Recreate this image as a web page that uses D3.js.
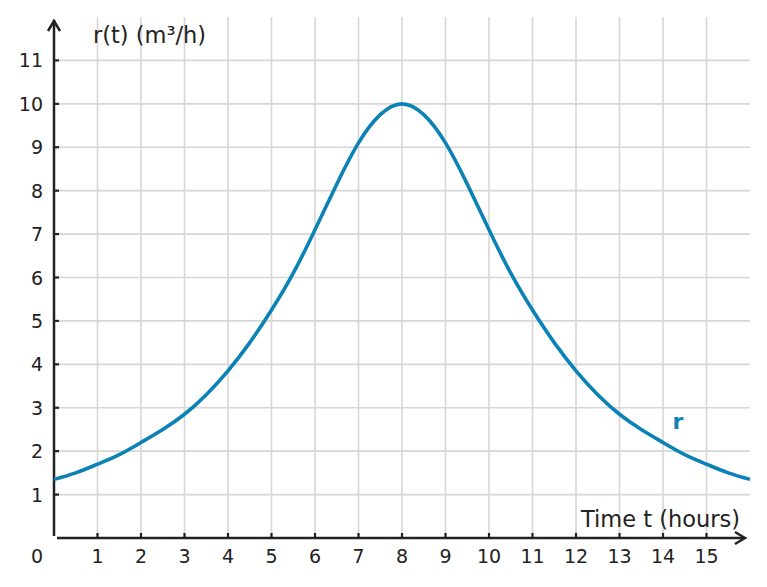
<!DOCTYPE html>
<html>
<head>
<meta charset="utf-8">
<script src="https://cdn.jsdelivr.net/npm/d3@7"></script>
<style>
  html, body { margin: 0; padding: 0; background: #fff; }
  text { font-family: "DejaVu Sans", sans-serif; fill: #222; }
</style>
</head>
<body>
<div id="chart"></div>
<script>
// values, every half hour
const hours = [0, 0.5, 1, 1.5, 2, 2.5, 3, 3.5, 4, 4.5, 5, 5.5, 6, 6.5, 7, 7.5, 8,
               8.5, 9, 9.5, 10, 10.5, 11, 11.5, 12, 12.5, 13, 13.5, 14, 14.5, 15, 15.5, 16];
const rate = [1.35, 1.5, 1.7, 1.92, 2.2, 2.5, 2.85, 3.3, 3.85, 4.5, 5.25, 6.1, 7.1, 8.15, 9.1, 9.75, 10,
              9.75, 9.1, 8.15, 7.1, 6.1, 5.25, 4.5, 3.85, 3.3, 2.85, 2.5, 2.2, 1.92, 1.7, 1.5, 1.35];
const xTicks = [1, 2, 3, 4, 5, 6, 7, 8, 9, 10, 11, 12, 13, 14, 15];
const yTicks = [1, 2, 3, 4, 5, 6, 7, 8, 9, 10, 11];

const width = 767, height = 587;
const svg = d3.select("#chart").append("svg")
    .attr("width", width)
    .attr("height", height);

const x = d3.scaleLinear().domain([0, 16]).range([54, 750]);
const y = d3.scaleLinear().domain([0, 12]).range([538, 17]);

// grid
const grid = svg.append("g");
grid.selectAll(".vgrid")
    .data(xTicks)
    .enter()
    .append("line")
    .attr("x1", d => x(d)).attr("x2", d => x(d))
    .attr("y1", y(12)).attr("y2", y(0))
    .style("stroke", "#d6d6d6")
    .style("stroke-width", 1.6);
grid.selectAll(".hgrid")
    .data(yTicks)
    .enter()
    .append("line")
    .attr("x1", x(0)).attr("x2", x(16))
    .attr("y1", d => y(d)).attr("y2", d => y(d))
    .style("stroke", "#d6d6d6")
    .style("stroke-width", 1.6);

// axes with arrows
const axisColor = "#222";
svg.append("path")
    .attr("d", `M${x(0)},${y(0) - 2} L${x(0)},20`)
    .style("stroke", axisColor).style("stroke-width", 2.5).style("fill", "none");
svg.append("path")
    .attr("d", `M${x(0) - 6},31 L${x(0)},21 L${x(0) + 6},31`)
    .style("stroke", axisColor).style("stroke-width", 2.5).style("fill", "none");
svg.append("path")
    .attr("d", `M${x(0) + 3},${y(0)} L${x(16) - 6},${y(0)}`)
    .style("stroke", axisColor).style("stroke-width", 2.5).style("fill", "none");
svg.append("path")
    .attr("d", `M${x(16) - 15},${y(0) - 6} L${x(16) - 5},${y(0)} L${x(16) - 15},${y(0) + 6}`)
    .style("stroke", axisColor).style("stroke-width", 2.5).style("fill", "none");

// ticks
svg.selectAll(".xtick")
    .data(xTicks)
    .enter()
    .append("line")
    .attr("x1", d => x(d)).attr("x2", d => x(d))
    .attr("y1", y(0) - 5).attr("y2", y(0))
    .style("stroke", axisColor).style("stroke-width", 2.2);
svg.selectAll(".ytick")
    .data(yTicks)
    .enter()
    .append("line")
    .attr("x1", x(0)).attr("x2", x(0) + 5)
    .attr("y1", d => y(d)).attr("y2", d => y(d))
    .style("stroke", axisColor).style("stroke-width", 2.2);

// tick labels
svg.selectAll(".xlabel")
    .data(xTicks)
    .enter()
    .append("text")
    .attr("x", d => x(d))
    .attr("y", 563)
    .attr("text-anchor", "middle")
    .style("font-size", "19px")
    .text(d => d);
svg.selectAll(".ylabel")
    .data(yTicks)
    .enter()
    .append("text")
    .attr("x", 43)
    .attr("y", d => y(d) + 7)
    .attr("text-anchor", "end")
    .style("font-size", "19px")
    .text(d => d);
svg.append("text")
    .attr("x", 37).attr("y", 563)
    .attr("text-anchor", "middle")
    .style("font-size", "19px")
    .text("0");

// axis titles
svg.append("text")
    .attr("x", 93).attr("y", 43)
    .style("font-size", "22.5px")
    .text("r(t) (m³/h)");
svg.append("text")
    .attr("x", 740).attr("y", 527)
    .attr("text-anchor", "end")
    .style("font-size", "22.5px")
    .text("Time t (hours)");

// curve
const line = d3.line()
    .x((d, i) => x(hours[i]))
    .y(d => y(d))
    .curve(d3.curveNatural);
svg.append("path")
    .datum(rate)
    .attr("d", line)
    .style("fill", "none")
    .style("stroke", "#0a82b6")
    .style("stroke-width", 3.6);

svg.append("text")
    .attr("x", 678).attr("y", 429)
    .attr("text-anchor", "middle")
    .style("font-size", "22px")
    .style("font-weight", "bold")
    .style("fill", "#0a82b6")
    .text("r");
</script>
</body>
</html>
